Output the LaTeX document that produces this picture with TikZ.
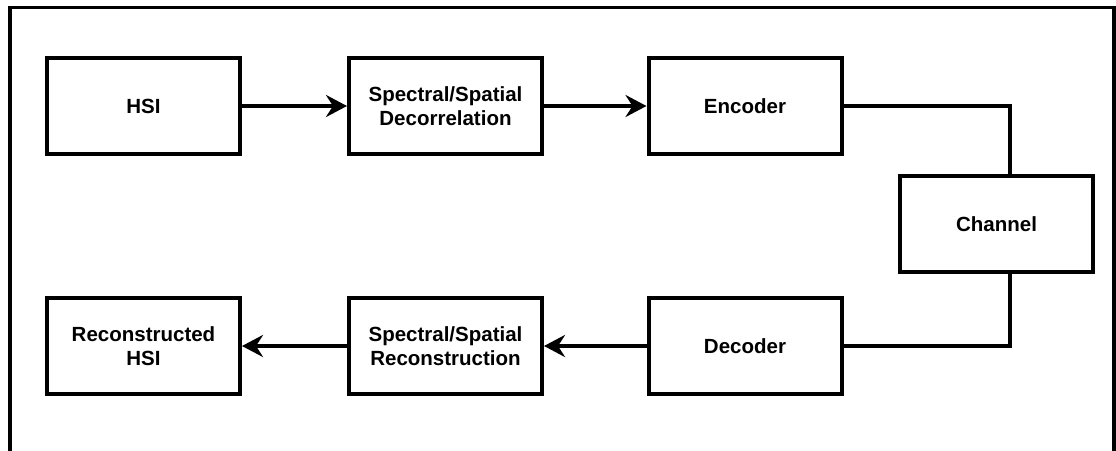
\documentclass[tikz,border=0pt]{standalone}
\usepackage{fontspec}
\setmainfont{Liberation Sans}
\usetikzlibrary{arrows.meta,calc}
\begin{document}
\begin{tikzpicture}[x=1pt,y=-1pt,
  block/.style={draw=black, line width=4pt, minimum width=193pt, minimum height=96pt,
    align=center, font=\fontsize{20.5}{24}\selectfont\bfseries, inner sep=0pt},
  link/.style={line width=4pt, draw=black},
  flow/.style={link, -{Stealth[length=21pt,width=22pt,inset=7pt]}},
  frame/.style={line width=3.5pt, draw=black}]
  \useasboundingbox (0,0) rectangle (1116,450);

  % open outer frame
  \draw[frame] (10,452) -- (10,7.5) -- (1114,7.5) -- (1114,452);

  % upper chain
  \node[block] (hsi)   at (143.5,106) {HSI};
  \node[block] (decor) at (445.5,106) {Spectral/Spatial\\Decorrelation};
  \node[block] (enc)   at (745,106)   {Encoder};

  % channel
  \node[block] (chan)  at (996.5,224) {Channel};

  % lower chain
  \node[block] (dec)   at (745,346)   {Decoder};
  \node[block] (recon) at (445.5,346) {Spectral/Spatial\\Reconstruction};
  \node[block] (out)   at (143.5,346) {Reconstructed\\HSI};

  % connectors
  \draw[flow] (hsi.east) -- (decor.west);
  \draw[flow] (decor.east) -- (enc.west);
  \draw[link] (enc.east) -| ($(chan.north)+(13,0)$);
  \draw[link] ($(chan.south)+(13,0)$) |- (dec.east);
  \draw[flow] (dec.west) -- (recon.east);
  \draw[flow] (recon.west) -- (out.east);
\end{tikzpicture}
\end{document}
